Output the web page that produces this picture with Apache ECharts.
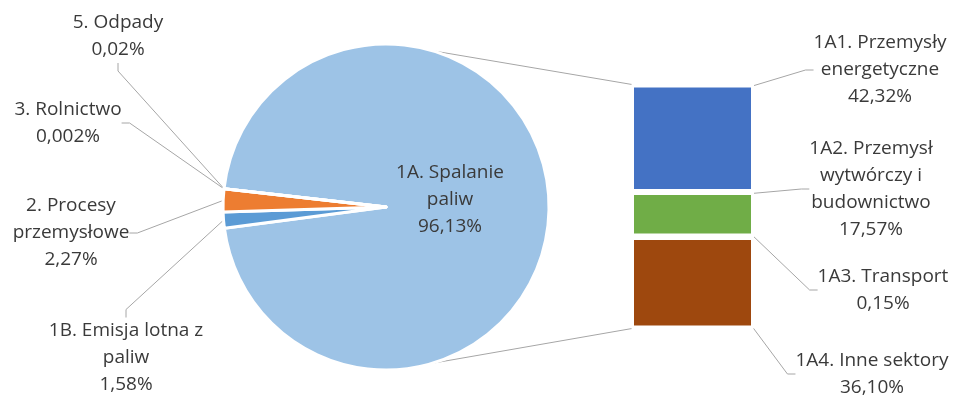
<!DOCTYPE html>
<html><head><meta charset="utf-8">
<script src="https://cdn.jsdelivr.net/npm/echarts@6/dist/echarts.min.js"></script>
<style>html,body{margin:0;padding:0;background:#fff}#c{width:957px;height:400px}</style>
</head><body><div id="c"></div>
<script>
// ---- data ----
const pieNames = ['1A. Spalanie\npaliw', '1B. Emisja lotna z\npaliw', '2. Procesy\nprzemysłowe', '3. Rolnictwo', '5. Odpady'];
const pieValues = [96.13, 1.58, 2.27, 0.002, 0.02];
const barNames = ['1A1. Przemysły\nenergetyczne', '1A2. Przemysł\nwytwórczy i\nbudownictwo', '1A3. Transport', '1A4. Inne sektory'];
const barValues = [42.32, 17.57, 0.15, 36.10];

// ---- style / layout ----
const pieColors = ['#9DC3E6', '#5B9BD5', '#ED7D31', '#A5A5A5', '#FFC000'];
const barColors = ['#4472C4', '#70AD47', '#4BACC6', '#9E480E'];
const pieCenter = [386, 207], pieR = 163;
const pieLabelPos = [[450, 200], [126, 358], [71, 233], [68, 123], [118, 36]];
const barLabelPos = [[880, 70], [871, 189], [883, 290], [872, 374]];
const barGrid = {left: 631, top: 84.5, width: 123, height: 244};
const connectorAngle = 73.5;
const FONT = 'Open Sans';
const TXT = '#3A3A3A';
const LINE = '#A6A6A6';

function fmt(v) { return (v < 0.01 ? v.toFixed(3) : v.toFixed(2)).replace('.', ',') + '%'; }
const barTotal = barValues.reduce((a, b) => a + b, 0);
const smallSum = pieValues.slice(1).reduce((a, b) => a + b, 0);
const total = pieValues.reduce((a, b) => a + b, 0);
// start so that the small slices are centred on the left side
const startAngle = 180 + (smallSum / total) * 180 + (pieValues[0] / total) * 360 - 360 + 0.5;

const chart = echarts.init(document.getElementById('c'), null, {renderer: 'canvas'});
const textStyle = {fontFamily: FONT, fontSize: 19, color: TXT, lineHeight: 27, align: 'center'};

const barSeries = barValues.map((v, i) => ({
  type: 'bar', name: barNames[i], stack: 't', barWidth: '100%',
  data: [v],
  itemStyle: {color: barColors[i], borderColor: '#fff', borderWidth: 3},
  label: Object.assign({show: true, position: 'right', formatter: () => barNames[i] + '\n' + fmt(v)}, textStyle),
  labelLine: {show: true, length2: 8, lineStyle: {color: LINE, width: 1}},
  labelLayout: {x: barLabelPos[i][0], y: barLabelPos[i][1], align: 'center', verticalAlign: 'middle'},
  emphasis: {disabled: true}, silent: true
}));

chart.setOption({
  animation: false,
  grid: Object.assign({containLabel: false}, barGrid),
  xAxis: {type: 'category', data: ['1A'], show: false},
  yAxis: {type: 'value', min: 0, max: barTotal, inverse: true, show: false},
  series: [{
    type: 'pie', center: pieCenter, radius: pieR, startAngle: startAngle, clockwise: true,
    avoidLabelOverlap: false, silent: true, emphasis: {disabled: true},
    itemStyle: {borderColor: '#fff', borderWidth: 3},
    label: Object.assign({show: true, formatter: p => pieNames[p.dataIndex] + '\n' + fmt(pieValues[p.dataIndex])}, textStyle),
    labelLine: {show: true, length: 10, length2: 8, lineStyle: {color: LINE, width: 1}},
    labelLayout: p => ({x: pieLabelPos[p.dataIndex][0], y: pieLabelPos[p.dataIndex][1], align: 'center', verticalAlign: 'middle'}),
    data: pieValues.map((v, i) => ({
      name: pieNames[i], value: v, itemStyle: {color: pieColors[i]},
      label: i === 0 ? {position: 'inside'} : undefined,
      labelLine: i === 0 ? {show: false} : undefined
    }))
  }].concat(barSeries)
});

// connector lines between pie and bar
const topLeft = chart.convertToPixel({gridIndex: 0}, [0, 0]);
const botLeft = chart.convertToPixel({gridIndex: 0}, [0, barTotal]);
const bx = barGrid.left + 1;
const a = connectorAngle * Math.PI / 180;
const pTop = [pieCenter[0] + pieR * Math.cos(a), pieCenter[1] - pieR * Math.sin(a)];
const pBot = [pieCenter[0] + pieR * Math.cos(a), pieCenter[1] + pieR * Math.sin(a)];
chart.setOption({graphic: [
  {type: 'line', silent: true, shape: {x1: pTop[0], y1: pTop[1], x2: bx, y2: topLeft[1]}, style: {stroke: LINE, lineWidth: 1}},
  {type: 'line', silent: true, shape: {x1: pBot[0], y1: pBot[1], x2: bx, y2: botLeft[1]}, style: {stroke: LINE, lineWidth: 1}}
]});
</script></body></html>
